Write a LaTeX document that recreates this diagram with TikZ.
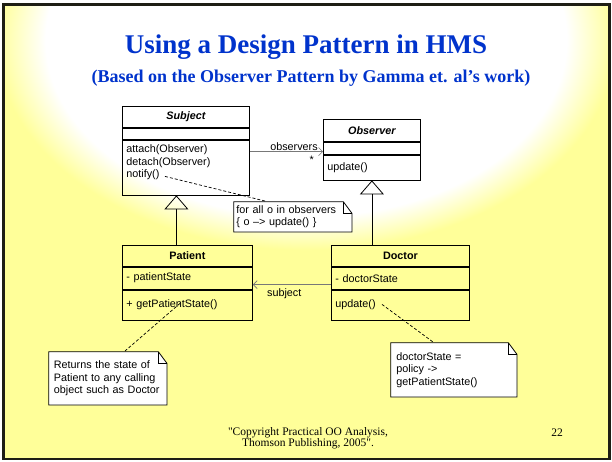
\documentclass[tikz,border=0pt]{standalone}
\usepackage{fontspec}
\setmainfont{Liberation Serif}
\newfontfamily\umlfont{Liberation Sans}
\newfontfamily\plainserif{Liberation Serif}[Ligatures=TeXOff]
\usetikzlibrary{positioning,arrows.meta,calc}

\definecolor{slideyellow}{RGB}{255,255,153}
\definecolor{titleblue}{RGB}{0,51,204}
\definecolor{framedark}{RGB}{30,30,20}
\definecolor{assocgray}{RGB}{120,120,120}

% soft white glow at the top of the slide
\pgfdeclareradialshading{slideglow}{\pgfpoint{0bp}{0bp}}{color(0bp)=(white); color(21bp)=(white); color(25bp)=(slideyellow); color(50bp)=(slideyellow)}

\begin{document}
\begin{tikzpicture}[x=1pt, y=1pt, line width=0.8pt,
    classname/.style={draw, inner sep=0pt, font=\umlfont\bfseries\fontsize{10.8}{12.5}\selectfont},
    compart/.style={draw, align=left, inner xsep=4pt, inner ysep=0pt,
                    font=\umlfont\fontsize{10.8}{12.5}\selectfont},
    note/.style={align=left, inner ysep=2pt, font=\umlfont\fontsize{10.8}{12.5}\selectfont,
      path picture={
        \filldraw[fill=white, draw=black, line width=0.8pt]
          ([shift={(0.4pt,0.4pt)}]path picture bounding box.south west)
          |- ([shift={(-9pt,-0.4pt)}]path picture bounding box.north east)
          -- ([shift={(-0.4pt,-12pt)}]path picture bounding box.north east)
          |- ([shift={(0.4pt,0.4pt)}]path picture bounding box.south west) -- cycle;
        \draw[line width=0.8pt] ([shift={(-9pt,-0.4pt)}]path picture bounding box.north east)
          |- ([shift={(-0.4pt,-12pt)}]path picture bounding box.north east);
      }},
    inherit/.style={-{Triangle[open, length=14pt, width=24pt]}, black, line width=0.8pt},
    assoc/.style={-{Straight Barb[length=4pt, width=8pt]}, assocgray, line width=0.6pt},
    notelink/.style={black, line width=0.7pt, dash pattern=on 3pt off 2pt},
    slidetext/.style={font=\umlfont\fontsize{10.8}{12}\selectfont}]

  \useasboundingbox (0,0) rectangle (612,461);

  % slide background and frame
  \fill[white] (0,0) rectangle (612,461);
  \fill[slideyellow] (3.5,2) rectangle (609.5,456.5);
  \begin{scope}
    \clip (3.5,2) rectangle (609.5,456.5);
    \shade[shading=slideglow] (-4,211) rectangle (616,631);
  \end{scope}
  \draw[framedark, line width=2.5pt] (3.5,2) rectangle (609.5,456.5);

  % titles
  \node[anchor=base, text=titleblue, font=\bfseries\fontsize{27}{30}\selectfont] (title)
    at (306,407) {Using a Design Pattern in HMS};
  \node[anchor=base, text=titleblue, font=\bfseries\fontsize{18}{20}\selectfont] (subtitle)
    at (311,378) {(Based on the Observer Pattern by Gamma et. al’s work)};

  % Subject
  \node[classname, minimum width=127pt, minimum height=21pt, anchor=north west] (subj)
    at (122,355) {\itshape Subject};
  \node[compart, text width=119pt, minimum height=11pt, below=0pt of subj] (subjattr) {};
  \node[compart, text width=119pt, minimum height=55pt, below=0pt of subjattr] (subjops)
    {attach(Observer)\\detach(Observer)\\notify()\\\mbox{}};

  % Observer
  \node[classname, minimum width=97pt, minimum height=22pt, anchor=north west] (obs)
    at (323,342) {\itshape Observer};
  \node[compart, text width=89pt, minimum height=12pt, below=0pt of obs] (obsattr) {};
  \node[compart, text width=89pt, minimum height=25pt, below=0pt of obsattr] (obsops)
    {update()};

  % Patient
  \node[classname, minimum width=130pt, minimum height=21pt, anchor=north west] (pat)
    at (122,216) {Patient};
  \node[compart, text width=122pt, minimum height=22pt, below=0pt of pat] (patattr)
    {- patientState};
  \node[compart, text width=122pt, minimum height=30pt, below=0pt of patattr] (patops)
    {+ getPatientState()};

  % Doctor
  \node[classname, minimum width=138pt, minimum height=21pt, anchor=north west] (doc)
    at (331,216) {Doctor};
  \node[compart, text width=130pt, minimum height=22pt, below=0pt of doc] (docattr)
    {- doctorState};
  \node[compart, text width=130pt, minimum height=30pt, below=0pt of docattr] (docops)
    {update()};

  % notes
  \node[note, text width=113pt, minimum height=31pt, inner xsep=3pt, anchor=north west] (notify note)
    at (233,260) {for all o in observers\\\{ o –> update() \}};
  \node[note, text width=108pt, minimum height=54pt, inner xsep=5.5pt, anchor=north west] (patient note)
    at (48,110) {Returns the state of\\Patient to any calling\\object such as Doctor};
  \node[note, text width=115pt, minimum height=55pt, inner xsep=6pt, anchor=north west] (doctor note)
    at (390,119) {doctorState =\\policy ->\\getPatientState()};

  % generalizations
  \draw[inherit] ([xshift=-11pt]pat.north) -- ([xshift=-11pt]pat.north |- subjops.south);
  \draw[inherit] (obsops.south |- doc.north) -- (obsops.south);

  % associations
  \draw[assoc] ([yshift=3pt]obsattr.south -| subjops.east) -- ([yshift=3pt]obsattr.south west)
    node[slidetext, text=black, anchor=south east, pos=1, xshift=-4pt, inner sep=1pt] (observers label) {observers}
    node[slidetext, text=black, anchor=north east, pos=1, xshift=-8pt, yshift=-3pt, inner sep=1pt] (many label) {*};
  \draw[assoc] ([yshift=5pt]docattr.south west) -- ([yshift=5pt]docattr.south west -| patattr.east)
    node[slidetext, text=black, anchor=north west, pos=1, xshift=13pt, yshift=-3pt, inner sep=1pt] (subject label) {subject};

  % note links
  \coordinate (notify end) at ($(subjops.south west)+(43,19)$);
  \coordinate (getstate end) at ($(patops.south west)+(58,17)$);
  \coordinate (update end) at ($(docops.south west)+(51,16)$);
  \draw[notelink] (notify end) -- ($(notify note.north west)+(32,0)$);
  \draw[notelink] (getstate end) -- ($(patient note.north west)+(77,0)$);
  \draw[notelink] (update end) -- ($(doctor note.north west)+(43,0)$);

  % footer
  \node[align=center, font=\plainserif\fontsize{11.5}{11}\selectfont] (copyright) at (308,23)
    {"Copyright Practical OO Analysis,\\Thomson Publishing, 2005".};
  \node[font=\plainserif\fontsize{11.5}{11}\selectfont] (page number) at (557,28) {22};
\end{tikzpicture}
\end{document}
